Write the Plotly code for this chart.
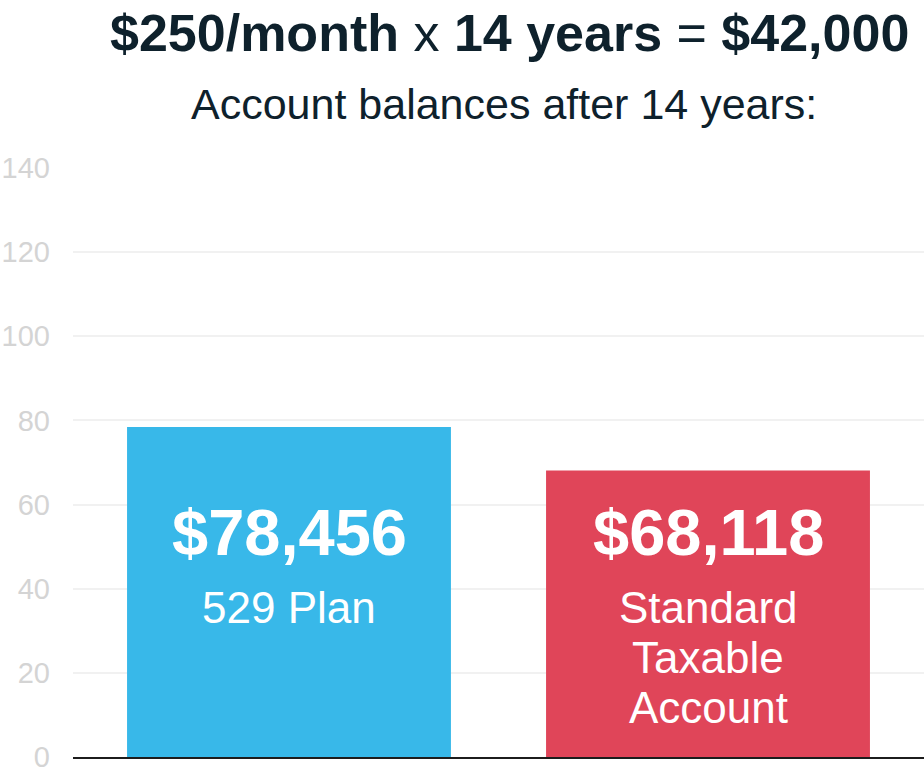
import plotly.graph_objects as go

categories = ["529 Plan", "Standard Taxable Account"]
values = [78.456, 68.118]            # thousands of dollars
value_labels = ["$78,456", "$68,118"]
label_lines = [["529 Plan"], ["Standard", "Taxable", "Account"]]
bar_colors = ["#38b8e9", "#e04559"]
y_ticks = [0, 20, 40, 60, 80, 100, 120, 140]

FONT = "Liberation Sans, Arial, Helvetica, sans-serif"
DARK = "#0e212c"

fig = go.Figure()
fig.add_trace(go.Bar(
    x=categories, y=values, width=0.773,
    marker=dict(color=bar_colors, line=dict(width=0)),
    hoverinfo="skip", showlegend=False,
))

annotations = []
for cat, v_lab, lines in zip(categories, value_labels, label_lines):
    annotations.append(dict(
        x=cat, y=53.2, xref="x", yref="y", text="<b>" + v_lab + "</b>",
        yshift=1, showarrow=False, font=dict(family=FONT, size=65, color="white"),
        xanchor="center", yanchor="middle"))
    for i, ln in enumerate(lines):
        annotations.append(dict(
            x=cat, y=53.2, xref="x", yref="y", text=ln, yshift=-74 - 50 * i,
            showarrow=False, font=dict(family=FONT, size=44, color="white"),
            xanchor="center", yanchor="middle"))

annotations.append(dict(
    x=0.5135, y=1.2292, xref="paper", yref="paper",
    text="<b>$250/month</b> x <b>14 years</b> = <b>$42,000</b>",
    showarrow=False, font=dict(family=FONT, size=52, color=DARK),
    xanchor="center", yanchor="middle"))
annotations.append(dict(
    x=0.5065, y=1.1087, xref="paper", yref="paper",
    text="Account balances after 14 years:",
    showarrow=False, font=dict(family=FONT, size=43, color=DARK),
    xanchor="center", yanchor="middle"))

fig.update_layout(
    width=924, height=769,
    margin=dict(l=73, r=0, t=168, b=12, autoexpand=False),
    paper_bgcolor="white", plot_bgcolor="white",
    annotations=annotations,
    xaxis=dict(type="category", range=[-0.5155, 1.5155], showticklabels=False,
               showgrid=False, zeroline=False, showline=True, automargin=False,
               linecolor="#1c1c1c", linewidth=1.5, ticks=""),
    yaxis=dict(range=[0, 140], tickvals=y_ticks, showgrid=True, automargin=False,
               gridcolor="#f1f1f1", gridwidth=1.5, zeroline=False,
               showline=False, ticks="", ticklabelstandoff=22,
               ticklabeloverflow="allow",
               tickfont=dict(family=FONT, size=29, color="#d4d4d4")),
)

fig.write_html("out.html", config={"displayModeBar": False},
               post_script="document.body.style.margin='0';document.body.style.overflow='hidden';")
